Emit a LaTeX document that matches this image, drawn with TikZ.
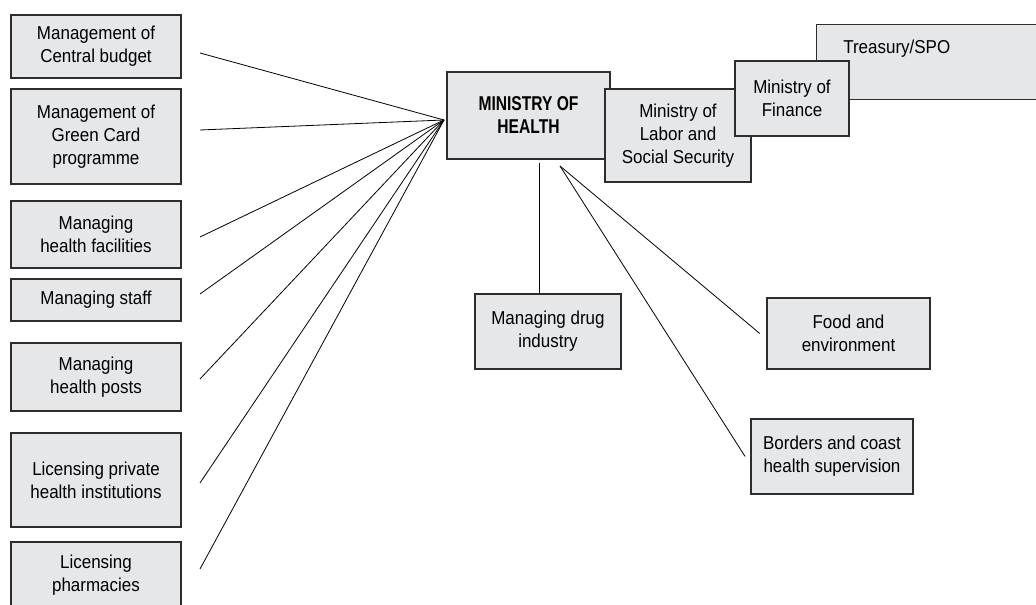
\documentclass[tikz,border=0pt]{standalone}
\usepackage{fontspec}
\setmainfont{Liberation Sans}[FakeStretch=0.91]
\newfontfamily\headfont{Liberation Sans}[FakeStretch=0.78]
\definecolor{boxgray}{RGB}{230,231,233}
\definecolor{edgegray}{RGB}{45,45,45}

\begin{document}
\begin{tikzpicture}[x=0.75pt,y=-0.75pt]
  \tikzstyle{unit}=[draw=edgegray, line width=0.9pt, fill=boxgray, align=center, inner sep=2pt, font=\fontsize{14pt}{17.25pt}\selectfont]
  \tikzstyle{left unit}=[unit, minimum width=127.5pt]
  \tikzstyle{link}=[line width=0.6pt]
  \useasboundingbox (0,0) rectangle (1036,605);

  \node[left unit, minimum height=47.25pt] (budget) at (96,46.5) {Management of\\Central budget};
  \node[left unit, minimum height=71.25pt] (greencard) at (96,136.5) {Management of\\Green Card\\programme};
  \node[left unit, minimum height=50.25pt] (facilities) at (96,234.5) {Managing\\health facilities};
  \node[left unit, minimum height=31.5pt] (staff) at (96,300) {Managing staff};
  \node[left unit, minimum height=51pt] (posts) at (96,377) {Managing\\health posts};
  \node[left unit, minimum height=70.5pt] (private) at (96,480) {Licensing private\\health institutions};
  \node[left unit, minimum height=49.5pt] (pharmacies) at (96,575) {Licensing\\pharmacies};

  \node[unit, font=\headfont\bfseries\fontsize{15pt}{17.25pt}\selectfont, minimum width=122.25pt, minimum height=65.25pt] (health) at (528.5,115.5) {MINISTRY OF\\HEALTH};
  \node[unit, minimum width=109.5pt, minimum height=69.75pt] (labor) at (678,135.5) {Ministry of\\Labor and\\Social Security};
  \node[unit, anchor=north west, minimum width=180pt, minimum height=56.25pt] (treasury) at (816,24) {};
  \node[font=\fontsize{14pt}{17.25pt}\selectfont, anchor=base west, inner sep=0pt] (treasurytext) at (843,54) {Treasury/SPO};
  \node[unit, minimum width=85.5pt, minimum height=56.25pt] (finance) at (792,98.5) {Ministry of\\Finance};

  \node[unit, minimum width=109.5pt, minimum height=56.25pt] (drug) at (548,331.5) {Managing drug\\industry};
  \node[unit, minimum width=122.25pt, minimum height=53.25pt] (food) at (848.5,333.5) {Food and\\environment};
  \node[unit, minimum width=121.5pt, minimum height=56.25pt] (borders) at (832,456.5) {Borders and coast\\health supervision};

  \coordinate (hub) at (444,120);
  \foreach \name/\y in {budget/53, greencard/130, facilities/237, staff/294, posts/379, private/483, pharmacies/569}
  {
    \coordinate (\name-end) at (200,\y);
    \draw[link] (\name-end) -- (hub);
  }

  \coordinate (drugstart) at (539,163);
  \coordinate (fork) at (560,166);
  \draw[link] (drugstart) -- (drugstart |- drug.north);
  \draw[link] (fork) -- ([xshift=-5pt]food.west);
  \draw[link] (fork) -- ([xshift=-4pt]borders.west);
\end{tikzpicture}
\end{document}
